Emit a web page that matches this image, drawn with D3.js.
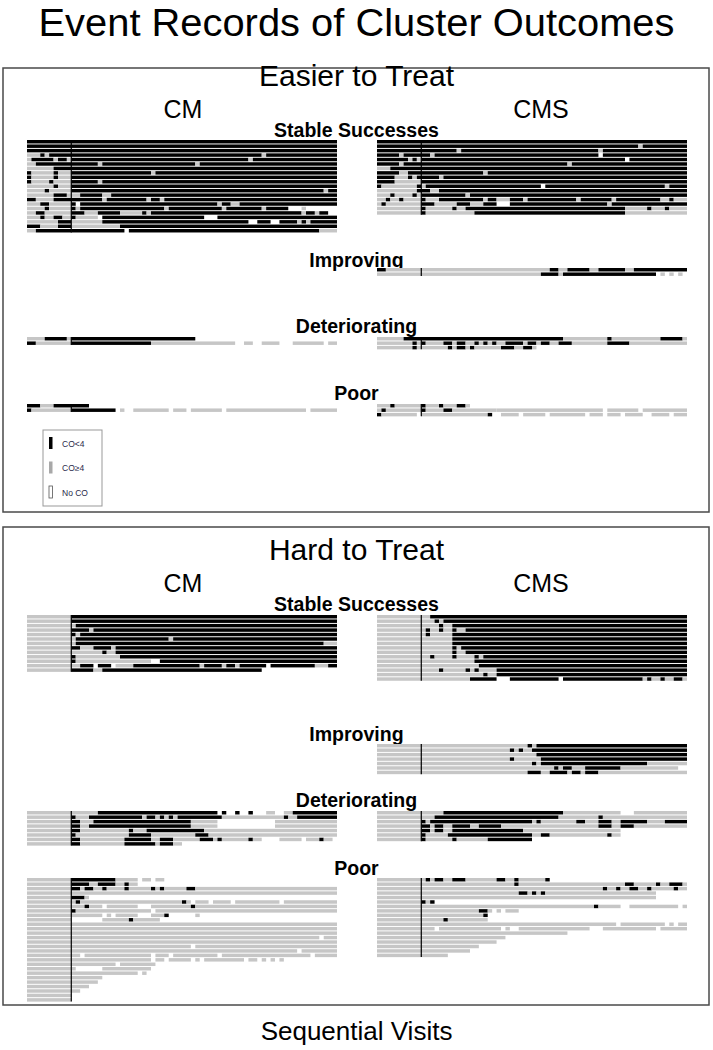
<!DOCTYPE html>
<html>
<head>
<meta charset="utf-8">
<script src="https://cdn.jsdelivr.net/npm/d3@7"></script>
<style>
  body { margin: 0; background: #fff; }
  text { font-family: "Liberation Sans", Arial, Helvetica, sans-serif; }
</style>
</head>
<body>
<svg id="chart" width="713" height="1050"></svg>
<script>
// categories
var groups = ["Easier to Treat", "Hard to Treat"];
var arms = ["CM", "CMS"];
var clusters = ["Stable Successes", "Improving", "Deteriorating", "Poor"];
var legendLabels = ["CO<4", "CO\u22654", "No CO"];
var baselineVisits = 10;
var totalVisits = 70;

// event records, one string per subject, run-length: k = CO<4, g = CO>=4, w = no CO
var easyStableCM = [
  "k70", "k70", "k70",
  "g3 k1 g1 k48 g1 k16",
  "g1 k5 g1 k2 g1 k40 g1 k19",
  "g2 k14 g1 k21 g1 k31",
  "g6 k64",
  "k1 g5 k1 g3 k18 g1 k41",
  "k1 g5 k1 g3 k60",
  "k1 g4 k1 g4 k6 g1 k53",
  "g6 k1 g3 k60",
  "g4 k1 g5 k57 g1 k2",
  "g6 k3 g3 k5 g2 k51",
  "k2 g4 k11 g1 k9 g1 k2 g1 k39",
  "g3 k2 g5 k1 w1 k31 g1 k2 g2 k22",
  "g4 k1 g5 k1 g1 k19 g1 k12 g1 k8 g1 k5 w3 g1 w7",
  "g2 k2 g6 k3 g3 k5 g5 k1 g1 k34 g1 k2 g1 k2 w3",
  "g3 k1 g2 k2 g2 k1 g5 w1 k23 w3 k27",
  "g7 k3 g7 k33 w2 k3 w2 k4 g1 k1 g1 k6",
  "k3 g4 k3 g11 k49",
  "g2 k8 k12 w1 k43 g4"
];
var easyStableCMS = [
  "k70",
  "k59 g1 k10",
  "k18 g1 k31 g1 k19",
  "k5 g1 k6 g1 k37 w1 k19",
  "k7 g1 k1 g1 k46 w1 k13",
  "k5 g1 k37 g1 k26",
  "g3 k67",
  "k5 g2 k17 g1 k45",
  "k4 g3 k1 g1 k5 g1 k55",
  "k4 g6 k60",
  "k1 g8 k1 g1 k26 w1 k27 g1 k5",
  "g9 k3 g2 k56",
  "g3 k1 g4 k1 g1 k10 g1 k50",
  "g2 k1 g2 k1 g4 k1 g3 k10 g1 k2 g3 k3 g1 k11 g1 k7 g1 k10 g2 k1 g3",
  "g1 k1 g8 k3 g5 k3 g3 k3 w3 k22 g1 k17",
  "g10 k1 g6 k1 g2 k36 g5 k1 g3 k1 g4",
  "g10 k1 g11 k34 g14"
];
var easyImprovingCM = [];
var easyImprovingCMS = [
  "k2 g37 k2 g2 k5 g2 k6 g2 k12",
  "g37 k4 g1 k21 w1 g1 w1 g1 w1 g1 w1 g1"
];
var easyDeterioratingCM = [
  "g4 k5 g1 k28",
  "k2 g8 k18 g19 w2 g2 w2 g4 w3 g7 w1 g2"
];
var easyDeterioratingCMS = [
  "g6 k36 g10 k1 g11 k5 g1",
  "g8 k1 g1 k1 g4 k2 g1 k2 g2 k1 g1 k1 g1 k1 g2 k4 g1 k2 g1 k2 g2 k3 g8 k5 g13",
  "g8 k1 g7 k1 g1 k2 g1 k1 g6 k3 g2 k2 g1"
];
var easyPoorCM = [
  "k3 g3 k8",
  "k1 g9 k10 w1 g1 w2 g8 w1 g3 w1 g7 w1 g18 w1 g6"
];
var easyPoorCMS = [
  "g3 k1 g6 k1 g3 k1 g3 k2 g1",
  "g1 k1 g8 k1 g4 k2 g10 g24 w1 g7 w1 g10",
  "k1 g8 w1 g15 k1 w2 g4 w1 g5 w1 g8 w1 g3 w1 g3 w1 g4 w2 g4 w1 g3"
];

var hardStableCM = [
  "g10 k60", "g10 k60",
  "g11 k59",
  "g10 k4 g1 k55",
  "g10 k1 g1 k58",
  "g11 k21 g1 k37",
  "g11 k56 g3",
  "g10 k2 g3 k4 g1 k50",
  "g17 k1 g2 k50",
  "g10 k1 g10 k49",
  "g10 k1 g17 w2 k40",
  "g12 k3 w1 k3 w1 g4 k15 g1 k4 g1 k2 g1 k6 w1 k10 g3 k2 g1",
  "g10 k5 g2 k36"
];
var hardStableCMS = [
  "g12 k58",
  "g13 k1 g1 k55",
  "g14 k1 g2 k53",
  "g11 k1 g2 k1 g2 k1 g2 k50",
  "g11 k1 g5 k53",
  "g17 k53",
  "g17 k53",
  "g17 k1 g1 k51",
  "g17 k1 g2 k50",
  "g12 k1 g4 k1 g4 k1 g1 k46",
  "g22 k48",
  "g23 k47",
  "g14 k1 g5 k1 g1 k1 g4 k43",
  "g24 k1 g2 k43",
  "g21 k6 w3 k11 w1 k18 g1 k1 g2 k1 g2 k2 g2"
];
var hardImprovingCM = [];
var hardImprovingCMS = [
  "g34 k1 g1 k34",
  "g30 k1 g1 k1 g2 k35",
  "g36 k34",
  "g30 k1 g6 k33",
  "g35 k1 g1 k24 g9",
  "g40 k1 g1 k2 g3 k8 g13",
  "g34 k3 g2 k4 g1 k2 g1 k3 g20"
];
var hardDeterioratingCM = [
  "g16 k27 w1 k1 w2 k1 w2 k1 w3 g2 w2 g2 k10",
  "g10 k1 g3 k12 g1 k2 g1 k1 g1 k1 g1 k10 g14 k1 g2 k9",
  "g10 k2 g3 k22 g6 w13 g14",
  "g10 k2 g2 k23 g6 w13 g14",
  "g10 k2 g11 k1 g3 k13 g30",
  "g10 k1 g12 k5 g10 k3 g29",
  "g10 k2 g10 k6 g2 k3 g6 k3 g1 k1 g6 k1 g2 w4 g5 w1 g3 k1 g2",
  "g10 k2 g10 k7 g1 k3 g2"
];
var hardDeterioratingCMS = [
  "g15 k27 g13 w3 g12",
  "g13 k28 g9 k1 g19",
  "g10 k1 g1 k23 g1 k1 g8 k2 g3 k3 g2 k6 g4 k5",
  "g10 k2 g1 k2 g2 k4 g2 k5 g22 k3 g2 k3 g12",
  "g10 k2 g1 k2 g2 k16 g22",
  "g10 k1 g5 k19 g2 k2 g13 k1 g2",
  "g10 k1 g6 k1 g7 k10"
];
var hardPoorCM = [
  "g10 k10 g5 w1 g2 w1 g2",
  "g10 k4 g2 k4 g2 k1 g2",
  "g10 k2 g1 k2 g2 k1 g4 k1 g5 k1 g1 k1 g5 k2 g32",
  "g70",
  "g10 k3 g1",
  "g11 k1 g23 k1 g1 w1 g3 w1 g4 w1 g10 w1 g12",
  "g13 k1 g3 w1 g7 w3 g9 k1 g32",
  "g10 k1 g17 w1 g41",
  "g17 w1 g1 w1 g5 w3 g3 k1 w6 g1",
  "g10 w7 g6 k1 g6",
  "g70", "g70", "g70",
  "g66 w1 g3",
  "g70",
  "g37 w1 g32",
  "g61 w1 g8",
  "g12 w1 g15 w1 g3 w1 g10 w1 g20 w1 g5",
  "g28 w1 g2 w1 g5 w1 g1 w1 g9 w1 g2 w1 g1 w1 g1 w1 g1",
  "g20 w1 g8",
  "g11 w6 g11",
  "g25 w1 g1",
  "g17", "g16", "g14", "g12", "g10", "g10"
];
var hardPoorCMS = [
  "g11 k1 g1 k2 g2 k3 g7 k2 g2 k1 g6 k1",
  "g31 k1 g24 k2 g5 k1 g2 k3 g1",
  "g51 k1 g2 k1 g2 k2 g2 k1 g5 k1 g3",
  "g32 k2 g1 k1 g1 k1 g25",
  "g63",
  "g10 k1 g1 k1",
  "g49 k1 g5 w2 g11 w1 g1",
  "g23 k2 g1 w1 g1 w1 g3",
  "g24 k1",
  "g15 k1 g9",
  "g54 w1 g10 w1 g1 w1 g2",
  "g13 w1 g14 w1 g1 w2 g16 w3 g12 w1 g6",
  "g43", "g29", "g27", "g23", "g21", "g16"
];

var records = [
  [[easyStableCM, easyStableCMS], [easyImprovingCM, easyImprovingCMS],
   [easyDeterioratingCM, easyDeterioratingCMS], [easyPoorCM, easyPoorCMS]],
  [[hardStableCM, hardStableCMS], [hardImprovingCM, hardImprovingCMS],
   [hardDeterioratingCM, hardDeterioratingCMS], [hardPoorCM, hardPoorCMS]]
];

// layout
var W = 713, H = 1050;
var rowStep = 4.45;
var panels = [
  {frame: [68, 512], title: 86, arm: 118, label: [137, 267, 333, 400], top: [140, 268, 337, 404]},
  {frame: [527, 1005], title: 560, arm: 592, label: [611, 741, 807, 875], top: [615, 744, 811, 878]}
];
var armRange = [[27, 337], [377, 687]];
var armCenter = [183, 541];

var svg = d3.select("#chart");
var fill = d3.scaleOrdinal().domain(["k", "g"]).range(["#000000", "#c6c6c6"]);

function parseRow(s) {
  var runs = [], c = 0;
  s.split(" ").forEach(function(t) {
    var n = +t.slice(1);
    if (c < totalVisits) runs.push({state: t[0], start: c, len: Math.min(n, totalVisits - c)});
    c += n;
  });
  return runs;
}

svg.append("text")
  .attr("x", W / 2).attr("y", 36)
  .attr("text-anchor", "middle")
  .attr("font-size", 38)
  .attr("textLength", 636).attr("lengthAdjust", "spacingAndGlyphs")
  .text("Event Records of Cluster Outcomes");

panels.forEach(function(p, gi) {
  svg.append("rect")
    .attr("x", 3).attr("y", p.frame[0])
    .attr("width", 706).attr("height", p.frame[1] - p.frame[0])
    .attr("fill", "none").attr("stroke", "#4a4a4a").attr("stroke-width", 1.5);

  svg.append("text")
    .attr("x", W / 2).attr("y", p.title)
    .attr("text-anchor", "middle").attr("font-size", 30)
    .text(groups[gi]);

  arms.forEach(function(a, ai) {
    svg.append("text")
      .attr("x", armCenter[ai]).attr("y", p.arm)
      .attr("text-anchor", "middle").attr("font-size", 25)
      .text(a);
  });

  clusters.forEach(function(cl, ci) {
    svg.append("text")
      .attr("x", W / 2).attr("y", p.label[ci])
      .attr("text-anchor", "middle").attr("font-size", 19.5).attr("font-weight", "bold")
      .text(cl);

    arms.forEach(function(a, ai) {
      var rows = records[gi][ci][ai];
      if (!rows.length) return;
      var x = d3.scaleLinear().domain([0, totalVisits]).range(armRange[ai]);
      var y = d3.scaleLinear().domain([0, 1]).range([p.top[ci], p.top[ci] + rowStep]);
      var block = svg.append("g");
      var rowG = block.selectAll("g.row")
        .data(rows.map(parseRow))
        .join("g").attr("class", "row");
      rowG.selectAll("rect")
        .data(function(d, i) {
          return d.filter(function(r) { return r.state !== "w"; })
            .map(function(r) { return {state: r.state, start: r.start, len: r.len, row: i}; });
        })
        .join("rect")
        .attr("x", function(d) { return x(d.start); })
        .attr("width", function(d) { return x(d.start + d.len) - x(d.start); })
        .attr("y", function(d) { return y(d.row); })
        .attr("height", rowStep * 0.78)
        .attr("fill", function(d) { return fill(d.state); });
      block.append("line")
        .attr("x1", x(baselineVisits)).attr("x2", x(baselineVisits))
        .attr("y1", y(0)).attr("y2", y(rows.length) - rowStep * 0.22)
        .attr("stroke", "#000").attr("stroke-width", 1.2);
    });
  });
});

// legend
var legend = svg.append("g").attr("transform", "translate(43,430)");
legend.append("rect")
  .attr("width", 59).attr("height", 76)
  .attr("fill", "#fff").attr("stroke", "#999").attr("stroke-width", 1);
var legendFill = ["#000000", "#a8a8a8", "#ffffff"];
legendLabels.forEach(function(l, i) {
  legend.append("rect")
    .attr("x", 6).attr("y", 7 + i * 24.5)
    .attr("width", 3.5).attr("height", 12)
    .attr("fill", legendFill[i])
    .attr("stroke", i === 2 ? "#555" : "none").attr("stroke-width", 0.8);
  legend.append("text")
    .attr("x", 19).attr("y", 16.5 + i * 24.5)
    .attr("font-size", 8.5).attr("fill", "#2a2a4a")
    .text(l);
});

svg.append("text")
  .attr("x", W / 2).attr("y", 1040)
  .attr("text-anchor", "middle").attr("font-size", 26)
  .text("Sequential Visits");
</script>
</body>
</html>
